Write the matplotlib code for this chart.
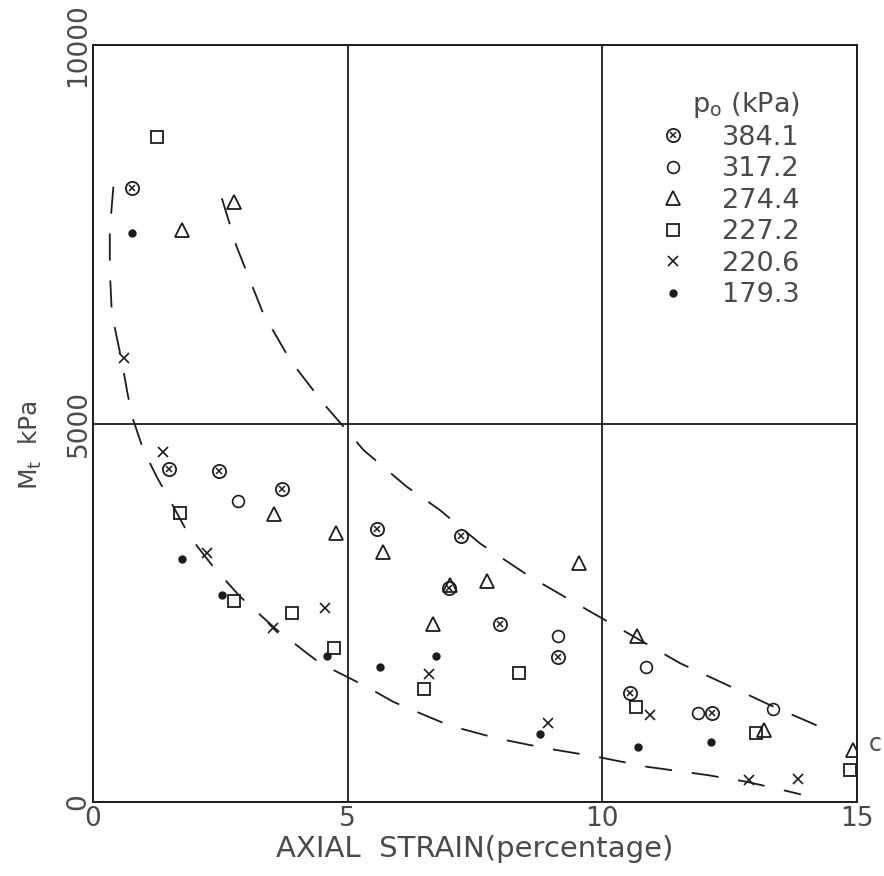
import matplotlib
matplotlib.use("Agg")
import matplotlib.pyplot as plt
from matplotlib.legend_handler import HandlerTuple

plt.rcParams['font.family'] = ['DejaVu Sans']

# ---- data (axial strain %, M_t kPa) ----
x_384 = [0.77, 1.49, 2.47, 3.72, 5.57, 7.22, 6.98, 7.99, 9.12, 10.54, 12.15]
y_384 = [8115, 4395, 4372, 4135, 3606, 3514, 2823, 2345, 1917, 1443, 1180]

x_317 = [2.84, 9.12, 10.85, 11.88, 13.36]
y_317 = [3976, 2195, 1787, 1172, 1225]

x_274 = [1.75, 2.77, 3.56, 4.77, 5.70, 6.67, 7.00, 7.73, 9.55, 10.69, 13.18, 14.93]
y_274 = [7556, 7922, 3798, 3556, 3304, 2351, 2870, 2919, 3151, 2193, 951, 687]

x_227 = [1.25, 1.71, 2.76, 3.90, 4.73, 6.49, 8.37, 10.66, 13.02, 14.86]
y_227 = [8789, 3814, 2655, 2492, 2030, 1488, 1708, 1251, 907, 423]

x_220 = [0.60, 1.38, 2.24, 3.53, 4.56, 6.60, 8.94, 10.94, 12.87, 13.85]
y_220 = [5861, 4628, 3291, 2303, 2559, 1687, 1040, 1149, 291, 300]

x_179 = [0.77, 1.75, 2.53, 4.59, 5.64, 6.73, 8.78, 10.71, 12.13]
y_179 = [7512, 3204, 2735, 1929, 1787, 1929, 894, 723, 797]

# hand-drawn bounding curves
lower_x = [0.40, 0.33, 0.33, 0.37, 0.56, 0.69, 0.79, 0.99, 1.25, 1.58, 1.90, 2.36,
           2.89, 3.61, 4.46, 5.37, 5.90, 6.36, 7.00, 7.93, 8.90, 9.89, 10.87, 12.05,
           12.83, 13.68, 13.90]
lower_y = [8128, 7556, 7028, 6450, 5840, 5354, 5046, 4650, 4297, 3900, 3505, 3108,
           2712, 2272, 1832, 1523, 1322, 1190, 1010, 841, 709, 598, 466, 357,
           268, 136, 100]

upper_x = [2.53, 2.82, 3.34, 3.87, 4.52, 4.92, 5.31, 6.16, 6.81, 7.60, 8.58, 9.37,
           10.28, 11.53, 12.38, 13.36, 14.27, 14.53]
upper_y = [7975, 7336, 6455, 5839, 5267, 4958, 4650, 4165, 3857, 3415, 2976, 2668,
           2316, 1832, 1568, 1259, 995, 926]

legend_labels = ['384.1', '317.2', '274.4', '227.2', '220.6', '179.3']
x_ticks = [0, 5, 10, 15]
y_ticks = [0, 5000, 10000]

INK = '#1c1c1c'
TXT = '#4a4a4a'

fig = plt.figure(figsize=(8.84, 8.76), dpi=100)
ax = fig.add_axes([93/884, 1-802/876, (857-93)/884, (802-45)/876])
ax.set_xlim(0, 15)
ax.set_ylim(0, 10000)

ls = (0, (15, 11))
ax.plot(lower_x, lower_y, color=INK, lw=1.3, linestyle=ls)
ax.plot(upper_x, upper_y, color=INK, lw=1.3, linestyle=ls)

mk = dict(linestyle='none', color=INK)
h1a, = ax.plot(x_384, y_384, marker='o', ms=9.5, mfc='none', mew=1.3, **mk)
h1b, = ax.plot(x_384, y_384, marker='x', ms=5, mew=1.1, **mk)
h2, = ax.plot(x_317, y_317, marker='o', ms=8.5, mfc='none', mew=1.2, **mk)
h3, = ax.plot(x_274, y_274, marker='^', ms=10, mfc='none', mew=1.3, **mk)
h4, = ax.plot(x_227, y_227, marker='s', ms=8, mfc='none', mew=1.3, **mk)
h5, = ax.plot(x_220, y_220, marker='x', ms=6.5, mew=1.2, **mk)
h6, = ax.plot(x_179, y_179, marker='o', ms=5, **mk)

ax.text(15.35, 760, 'c', fontsize=17, color=TXT, ha='center', va='center', clip_on=False)

ax.set_xticks(x_ticks)
ax.set_yticks(y_ticks)
ax.set_xticklabels([str(v) for v in x_ticks], fontsize=19, color=TXT)
ax.set_yticklabels([str(v) for v in y_ticks], fontsize=19, color=TXT,
                   rotation=90, va='center')
ax.tick_params(axis='x', length=0, pad=3)
ax.tick_params(axis='y', length=0, pad=1)
ax.grid(True, color=INK, lw=1.3)
for s in ax.spines.values():
    s.set_color(INK)
    s.set_linewidth(1.4)

ax.set_xlabel('AXIAL  STRAIN(percentage)', fontsize=21, color=TXT, labelpad=2)
fig.text(30/884, 1-445/876, r'M$_{\rm t}$  kPa', fontsize=18, color=TXT,
         rotation=90, ha='center', va='center')

leg = ax.legend([(h1a, h1b), h2, h3, h4, h5, h6], legend_labels,
                handler_map={tuple: HandlerTuple(ndivide=1)},
                loc='upper left', bbox_to_anchor=(646/884, 1-76/876),
                bbox_transform=fig.transFigure, frameon=False, fontsize=19.5,
                handlelength=1.0, handletextpad=1.3, labelspacing=0.2,
                borderpad=0, title=r'p$_{\rm o}$ (kPa)', title_fontsize=19.5)
leg._legend_box.align = 'right'
for t in leg.get_texts():
    t.set_color(TXT)
leg.get_title().set_color(TXT)

fig.savefig('out.png', dpi=100)
